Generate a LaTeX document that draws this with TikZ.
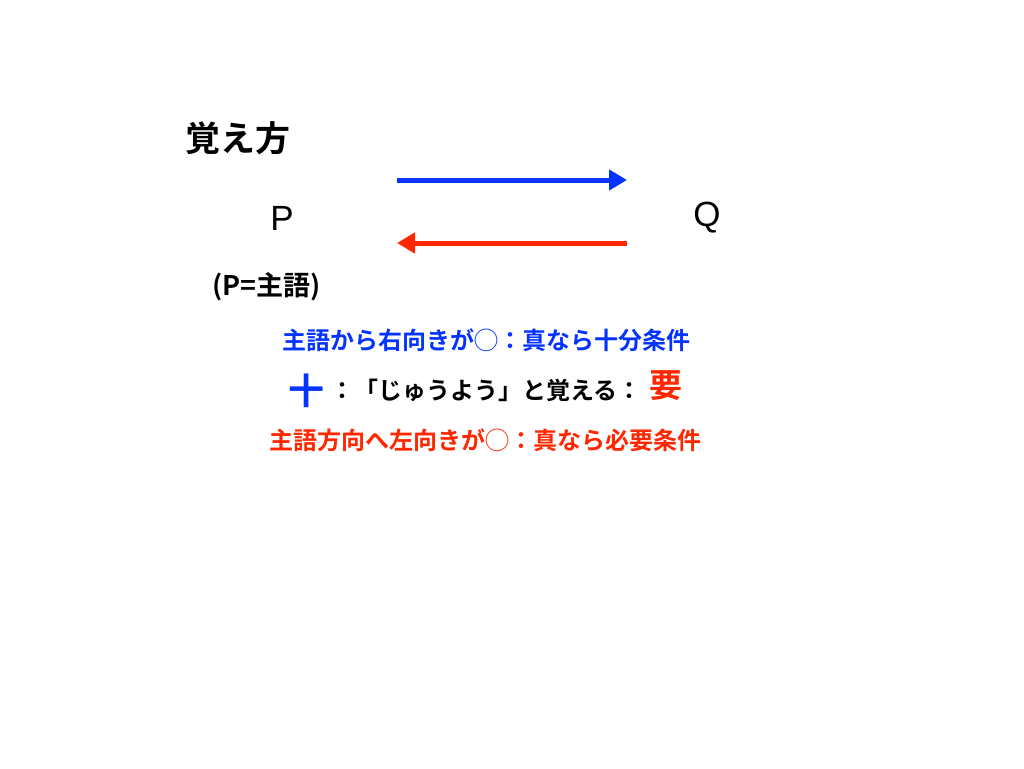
\documentclass[tikz,border=0pt]{standalone}
\usepackage{fontspec}
\setmainfont{Liberation Sans}
\newfontfamily\cjk{Noto Sans CJK JP}[BoldFont={Noto Sans CJK JP Bold}]
\usetikzlibrary{arrows.meta,positioning}

\definecolor{keyblue}{RGB}{4,51,255}
\definecolor{keyred}{RGB}{255,38,0}

\tikzset{
  jtext/.style={inner sep=0pt,font=\cjk\bfseries\fontsize{#1}{#1}\selectfont},
  jtext/.default=24,
  letter/.style={inner sep=0pt,font=\fontsize{35}{35}\selectfont},
  flow/.style={line width=5pt,-{Triangle[length=18pt,width=20pt]}}
}

\begin{document}
\begin{tikzpicture}[x=1pt,y=-1pt]
  \useasboundingbox (0,0) rectangle (1024,768);

  \node[jtext=35,anchor=west] (title) at (185,138) {覚え方};

  \node[letter] (p) at (282,218) {P};
  \node[letter] (q) at (707,218) {Q};
  \node[jtext=27,anchor=west] (subj) at (212,287) {(P=主語)};

  \coordinate (bluestart) at (397,180);
  \coordinate (blueend) at (627,180);
  \coordinate (redstart) at (627,243);
  \coordinate (redend) at (397,243);

  \draw[flow,keyblue] (bluestart) -- (blueend);
  \draw[flow,keyred] (redstart) -- (redend);

  \node[jtext,text=keyblue] (suff) at (486,340) {主語から右向きが◯：真なら十分条件};
  \node[jtext=36,text=keyblue] (ju) at (306,391) {十};
  \node[jtext=24,anchor=west] (rule) at (330,390) {：「じゅうよう」と覚える：};
  \node[jtext=33,text=keyred] (you) at (666,386) {要};
  \node[jtext,text=keyred] (nec) at (485,440) {主語方向へ左向きが◯：真なら必要条件};
\end{tikzpicture}
\end{document}
